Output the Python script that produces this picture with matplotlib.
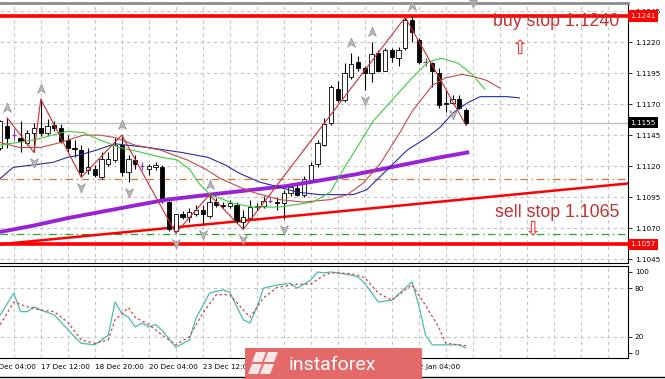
import matplotlib
matplotlib.use('Agg')
from matplotlib import pyplot as plt
from matplotlib.path import Path
from matplotlib.patches import Rectangle, Polygon
import matplotlib.transforms as mtransforms

# EURUSD H4 candles
opens = [1.1135, 1.1152, 1.1145, 1.1143, 1.1139, 1.1147, 1.1151, 1.1147, 1.1153, 1.1151,
         1.1141, 1.1135, 1.1133, 1.1117, 1.1118, 1.1111, 1.1122, 1.1125, 1.1137, 1.1115,
         1.1125, 1.1120, 1.1118, 1.1119, 1.1119, 1.1091, 1.1068, 1.1081, 1.1079, 1.1081,
         1.1085, 1.1080, 1.1091, 1.1089, 1.1088, 1.1089, 1.1075, 1.1078, 1.1087, 1.1088,
         1.1092, 1.1091, 1.1090, 1.1098, 1.1102, 1.1097, 1.1109, 1.1122, 1.1137, 1.1155,
         1.1182, 1.1173, 1.1192, 1.1204, 1.1199, 1.1195, 1.1211, 1.1197, 1.1214, 1.1207,
         1.1215, 1.1238, 1.1222, 1.1204, 1.1203, 1.1195, 1.1171, 1.1171, 1.1174, 1.1165]
highs = [1.1157, 1.1159, 1.1150, 1.1156, 1.1149, 1.1155, 1.1174, 1.1158, 1.1156, 1.1154,
         1.1145, 1.1141, 1.1137, 1.1135, 1.1121, 1.1131, 1.1131, 1.1143, 1.1145, 1.1129,
         1.1129, 1.1123, 1.1122, 1.1123, 1.1121, 1.1093, 1.1081, 1.1084, 1.1086, 1.1089,
         1.1089, 1.1097, 1.1094, 1.1091, 1.1093, 1.1091, 1.1085, 1.1093, 1.1090, 1.1096,
         1.1095, 1.1095, 1.1101, 1.1106, 1.1105, 1.1112, 1.1123, 1.1141, 1.1159, 1.1185,
         1.1189, 1.1203, 1.1211, 1.1209, 1.1201, 1.1220, 1.1214, 1.1215, 1.1215, 1.1216,
         1.1240, 1.1241, 1.1223, 1.1207, 1.1204, 1.1199, 1.1181, 1.1177, 1.1177, 1.1167]
lows = [1.1133, 1.1135, 1.1141, 1.1131, 1.1137, 1.1131, 1.1144, 1.1145, 1.1148, 1.1139,
        1.1131, 1.1127, 1.1111, 1.1114, 1.1111, 1.1110, 1.1120, 1.1123, 1.1112, 1.1107,
        1.1118, 1.1117, 1.1113, 1.1117, 1.1090, 1.1068, 1.1066, 1.1077, 1.1075, 1.1080,
        1.1073, 1.1078, 1.1087, 1.1086, 1.1086, 1.1074, 1.1069, 1.1077, 1.1085, 1.1086,
        1.1090, 1.1085, 1.1077, 1.1096, 1.1096, 1.1095, 1.1107, 1.1119, 1.1136, 1.1153,
        1.1172, 1.1172, 1.1190, 1.1197, 1.1181, 1.1188, 1.1196, 1.1197, 1.1204, 1.1201,
        1.1214, 1.1220, 1.1202, 1.1201, 1.1184, 1.1167, 1.1164, 1.1170, 1.1166, 1.1153]
closes = [1.1156, 1.1143, 1.1145, 1.1140, 1.1147, 1.1151, 1.1147, 1.1152, 1.1151, 1.1140,
          1.1135, 1.1134, 1.1115, 1.1119, 1.1113, 1.1126, 1.1126, 1.1137, 1.1115, 1.1126,
          1.1122, 1.1120, 1.1120, 1.1121, 1.1092, 1.1069, 1.1081, 1.1079, 1.1083, 1.1085,
          1.1081, 1.1091, 1.1089, 1.1088, 1.1090, 1.1076, 1.1079, 1.1087, 1.1088, 1.1092,
          1.1092, 1.1090, 1.1098, 1.1103, 1.1097, 1.1110, 1.1121, 1.1139, 1.1154, 1.1184,
          1.1173, 1.1195, 1.1202, 1.1199, 1.1195, 1.1210, 1.1197, 1.1214, 1.1208, 1.1214,
          1.1238, 1.1228, 1.1204, 1.1204, 1.1197, 1.1169, 1.1170, 1.1174, 1.1167, 1.1155]

# moving averages (bar, price) - shifted ones run past the last candle
ma_green_bars = [0, 4.9, 9.9, 12.3, 14.8, 17.7, 21.0, 24.0, 26.2, 28.1, 29.6, 31.1, 32.6, 34.5,
                 37.4, 41.4, 46.3, 48.9, 50.8, 53.3, 55.2, 58.5, 61.0, 63.4, 65.4, 67.8, 69.9, 71.8]
ma_green_vals = [1.1137, 1.1141, 1.1148, 1.1147, 1.1141, 1.1135, 1.1131, 1.1127, 1.1125, 1.1117,
                 1.1105, 1.1097, 1.1094, 1.1090, 1.1087, 1.1087, 1.1091, 1.1099, 1.1117, 1.1139,
                 1.1156, 1.1176, 1.1191, 1.1204, 1.1207, 1.1203, 1.1194, 1.1182]
ma_red_bars = [0, 2.9, 5.9, 8.9, 12.3, 14.8, 17.0, 19.9, 23.7, 27.7, 30.6, 32.6, 35.5, 37.4,
               41.4, 44.9, 48.9, 51.4, 53.7, 56.3, 59.2, 61.0, 64.0, 65.9, 68.4, 70.3, 72.1, 74.0]
ma_red_vals = [1.1139, 1.1135, 1.1135, 1.1139, 1.1145, 1.1145, 1.1143, 1.1137, 1.1133, 1.1125,
               1.1117, 1.1110, 1.1103, 1.1099, 1.1093, 1.1091, 1.1093, 1.1097, 1.1106, 1.1122,
               1.1147, 1.1164, 1.1185, 1.1191, 1.1194, 1.1192, 1.1189, 1.1183]
ma_blue_bars = [0, 1.9, 4.9, 7.8, 9.9, 11.8, 14.3, 17.0, 21.9, 26.9, 30.8, 33.3, 35.5, 38.5, 41.4,
                44.0, 47.4, 52.3, 54.3, 57.3, 60.3, 63.2, 65.1, 67.1, 69.2, 71.1, 73.0, 75.1, 76.9]
ma_blue_vals = [1.1110, 1.1119, 1.1121, 1.1123, 1.1127, 1.1129, 1.1133, 1.1138, 1.1135, 1.1131,
                1.1127, 1.1121, 1.1114, 1.1107, 1.1103, 1.1099, 1.1097, 1.1097, 1.1101, 1.1117,
                1.1133, 1.1143, 1.1151, 1.1163, 1.1171, 1.1176, 1.1176, 1.1176, 1.1175]
ma_slow_bars = [0, 4.9, 9.9, 14.8, 19.7, 24.7, 32.6, 42.5, 52.3, 65.1, 69.2]
ma_slow_vals = [1.1067, 1.1072, 1.1078, 1.1083, 1.1088, 1.1093, 1.1098, 1.1104, 1.1113, 1.1127, 1.1131]

zigzag_bars = [1, 5, 6, 12, 18, 26, 31, 36, 60, 69]
zigzag_vals = [1.1159, 1.1131, 1.1174, 1.1111, 1.1145, 1.1066, 1.1097, 1.1069, 1.1240, 1.1153]

fractal_up = [1, 6, 18, 31, 52, 55, 61]
fractal_down = [5, 12, 19, 26, 30, 36, 42, 54, 67]

buy_level = 1.1241
sell_level = 1.1057
orange_level = 1.1110
green_level = 1.1065
last_price = 1.1155
trend_bars = [0, 93]
trend_vals = [1.1057, 1.1106]

# stochastic
stoch_k_bars = [0, 2, 3, 4, 5, 6, 8, 9, 11, 12, 14, 16, 17, 18, 19, 20, 21, 22, 23, 24, 26, 28, 29,
                31, 33, 34, 36, 37, 38, 39, 41, 43, 44, 46, 47, 48, 49, 50, 52, 53, 54, 56, 58, 60,
                61, 62, 63, 64, 66, 68, 69]
stoch_k_vals = [47, 74, 51, 51, 57, 53, 47, 38, 20, 12, 10, 22, 63, 49, 44, 32, 37, 32, 35, 28, 7, 16,
                43, 74, 78, 75, 41, 37, 56, 80, 84, 86, 80, 90, 100, 99, 100, 99, 96, 94, 86, 63, 65,
                80, 88, 59, 22, 10, 10, 10, 6]
stoch_d_bars = [0, 2, 4, 6, 8, 10, 12, 14, 16, 17, 19, 20, 22, 24, 26, 28, 30, 32, 34, 37, 39, 41,
                44, 46, 48, 49, 52, 54, 56, 58, 60, 61, 63, 65, 66, 68, 69]
stoch_d_vals = [35, 63, 57, 53, 51, 38, 16, 12, 16, 41, 56, 44, 35, 22, 10, 20, 49, 72, 72, 44, 68,
                81, 85, 85, 96, 99, 98, 93, 74, 65, 78, 84, 59, 31, 12, 10, 9]

price_ticks = [1.1045, 1.1070, 1.1095, 1.1120, 1.1145, 1.1170, 1.1195, 1.1220, 1.1245]
# labels at 24 Dec, 27 Dec and 30 Dec sit under the watermark and are not shown
time_bars = [-2, 6, 14, 22, 30, 62]
time_labels = ['16 Dec 04:00', '17 Dec 12:00', '18 Dec 20:00', '20 Dec 04:00', '23 Dec 12:00',
               '2 Jan 04:00']

W, H = 665, 379


def fbox(x0, y0, x1, y1):
    return [x0 / W, 1 - y1 / H, (x1 - x0) / W, (y1 - y0) / H]


fig = plt.figure(figsize=(W / 100, H / 100), dpi=100)
ax = fig.add_axes(fbox(0, 3, 628, 263))
ax2 = fig.add_axes(fbox(0, 266, 628, 358), sharex=ax)

ax.set_xlim(-0.04, 93.0)
ax.set_ylim(1.10419, 1.12515)
ax2.set_ylim(-6.2, 107.4)

grid_bars = list(range(2, 93, 4))
for a in (ax, ax2):
    a.set_xticks(grid_bars)
    a.tick_params(axis='x', length=0, labelbottom=False)
    a.xaxis.grid(True, color='#c4c4c4', linestyle=(0, (3, 3)), linewidth=0.8)
    a.spines['left'].set_visible(False)
    a.set_axisbelow(True)
    a.yaxis.tick_right()
    a.tick_params(axis='y', length=3, width=0.6, pad=2, labelsize=5.2)

ax.set_yticks(price_ticks)
ax.set_yticklabels(['%.4f' % p for p in price_ticks])
ax.yaxis.grid(True, color='#c4c4c4', linestyle=(0, (3, 3)), linewidth=0.8)
ax.spines['top'].set_color('#8c8c8c')
ax.spines['top'].set_linewidth(2)

ax2.set_yticks([0, 20, 80, 100])
ax2.set_yticklabels(['0', '20', '80', '100'])
for lvl in (20, 80):
    ax2.axhline(lvl, color='#c4c4c4', linestyle=(0, (3, 3)), linewidth=0.8, zorder=0)

# candles
for i in range(len(opens)):
    o, h, l, c = opens[i], highs[i], lows[i], closes[i]
    if o == c:
        ax.vlines(i, l, h, color='#8040a0', linewidth=0.8, zorder=3)
        ax.hlines(o, i - 0.3, i + 0.3, color='#8040a0', linewidth=0.9, zorder=3)
        continue
    ax.vlines(i, l, h, color='black', linewidth=0.8, zorder=3)
    ax.bar(i, abs(c - o), bottom=min(o, c), width=0.62,
           color='white' if c > o else 'black', edgecolor='black', linewidth=0.6, zorder=3)

# levels and lines
ax.axhline(last_price, color='#c0c0c0', linewidth=1, zorder=1)
ax.axhline(buy_level, color='#ff0000', linewidth=2.6, zorder=2)
ax.axhline(sell_level, color='#ff0000', linewidth=2.6, zorder=2)
ax.axhline(orange_level, color='#e07030', linewidth=0.9, linestyle=(0, (6, 3, 1, 3)), zorder=2)
ax.axhline(green_level, color='#30a030', linewidth=0.9, linestyle=(0, (6, 3, 1, 3)), zorder=2)
ax.plot(trend_bars, trend_vals, color='#ff0000', linewidth=1.8, zorder=2)

ax.plot(ma_slow_bars, ma_slow_vals, color='#9a22d6', linewidth=2.8, zorder=4)
ax.plot(ma_blue_bars, ma_blue_vals, color='#2a2aa8', linewidth=0.8, zorder=4)
ax.plot(ma_red_bars, ma_red_vals, color='#c84848', linewidth=0.8, zorder=4)
ax.plot(ma_green_bars, ma_green_vals, color='#3ccc3c', linewidth=0.8, zorder=4)
ax.plot(zigzag_bars, zigzag_vals, color='#c83030', linewidth=0.8, zorder=4)

# fractal arrows
arrow_up = Path([(0, 1), (0.7, -0.7), (0, -0.2), (-0.7, -0.7), (0, 1)])
arrow_down = Path([(0, -1), (0.7, 0.7), (0, 0.2), (-0.7, 0.7), (0, -1)])
ax.plot(fractal_up, [highs[i] + 0.0008 for i in fractal_up], linestyle='none', marker=arrow_up,
        markersize=8, markerfacecolor='#b8b8b8', markeredgecolor='#909090', markeredgewidth=0.5, zorder=5)
ax.plot(fractal_down, [lows[i] - 0.0008 for i in fractal_down], linestyle='none', marker=arrow_down,
        markersize=8, markerfacecolor='#b8b8b8', markeredgecolor='#909090', markeredgewidth=0.5, zorder=5)
# chart shift marker
ax.plot([len(opens)], [1], transform=mtransforms.blended_transform_factory(ax.transData, ax.transAxes),
        marker='v', markersize=6, color='#a8a8a8', clip_on=False, zorder=6)

# annotations
ax.text(82.3, buy_level - 0.0008, 'buy stop 1.1240', color='#c03434', fontsize=12.8,
        family='Liberation Sans', ha='center', va='baseline', zorder=6)
ax.text(77.0, buy_level - 0.0026, '\u21e7', color='#ff2020', fontsize=14, ha='center', va='center', zorder=6)
ax.text(82.5, sell_level + 0.0022, 'sell stop 1.1065', color='#c03434', fontsize=12.8,
        family='Liberation Sans', ha='center', va='baseline', zorder=6)
ax.text(78.9, sell_level + 0.0012, '\u21e9', color='#ff2020', fontsize=14, ha='center', va='center', zorder=6)

# price tags on the axis
ytag = mtransforms.blended_transform_factory(ax.transAxes, ax.transData)
for val, col in ((buy_level, '#ff0000'), (last_price, '#000000'), (sell_level, '#ff0000')):
    ax.text(1.004, val, '%.4f' % val, transform=ytag, color='white', fontsize=5.2, ha='left',
            va='center', clip_on=False, zorder=10,
            bbox=dict(boxstyle='square,pad=0.35', facecolor=col, edgecolor='none'))

# stochastic
ax2.plot(stoch_k_bars, stoch_k_vals, color='#4cbcb0', linewidth=0.9)
ax2.plot(stoch_d_bars, stoch_d_vals, color='#c84848', linewidth=0.9, linestyle=(0, (2, 2)))

xlab = mtransforms.blended_transform_factory(ax2.transData, ax2.transAxes)
for b, lab in zip(time_bars, time_labels):
    ax2.text(b, -0.1, lab, transform=xlab, fontsize=5.2, ha='left', va='center', clip_on=False)
ax2.set_xticks(time_bars[1:], minor=True)
ax2.tick_params(axis='x', which='minor', length=3, width=0.6, direction='out')

# bottom frame line
fig.add_artist(plt.Line2D([0, 1], [1 - 377 / H, 1 - 377 / H], transform=fig.transFigure,
                          color='black', linewidth=1))

# watermark
fig.add_artist(Rectangle((245 / W, 0), 177 / W, 31 / H, transform=fig.transFigure,
                         facecolor='#e46a6a', edgecolor='none', zorder=20))
fig.text(289 / W, 1 - 370 / H, 'instaforex', color='white', fontsize=14, family='Roboto',
         ha='left', va='baseline', zorder=21)
for pts in ([(256, 352), (266, 352), (262, 362), (252, 362)],
            [(268, 352), (278, 352), (274, 362), (264, 362)],
            [(252, 364), (262, 364), (258, 374), (248, 374)],
            [(264, 364), (274, 364), (270, 374), (260, 374)]):
    fig.add_artist(Polygon([(x / W, 1 - y / H) for x, y in pts], closed=True, transform=fig.transFigure,
                           facecolor='white', edgecolor='none', alpha=0.85, zorder=21))

fig.savefig('out.png', dpi=100)
